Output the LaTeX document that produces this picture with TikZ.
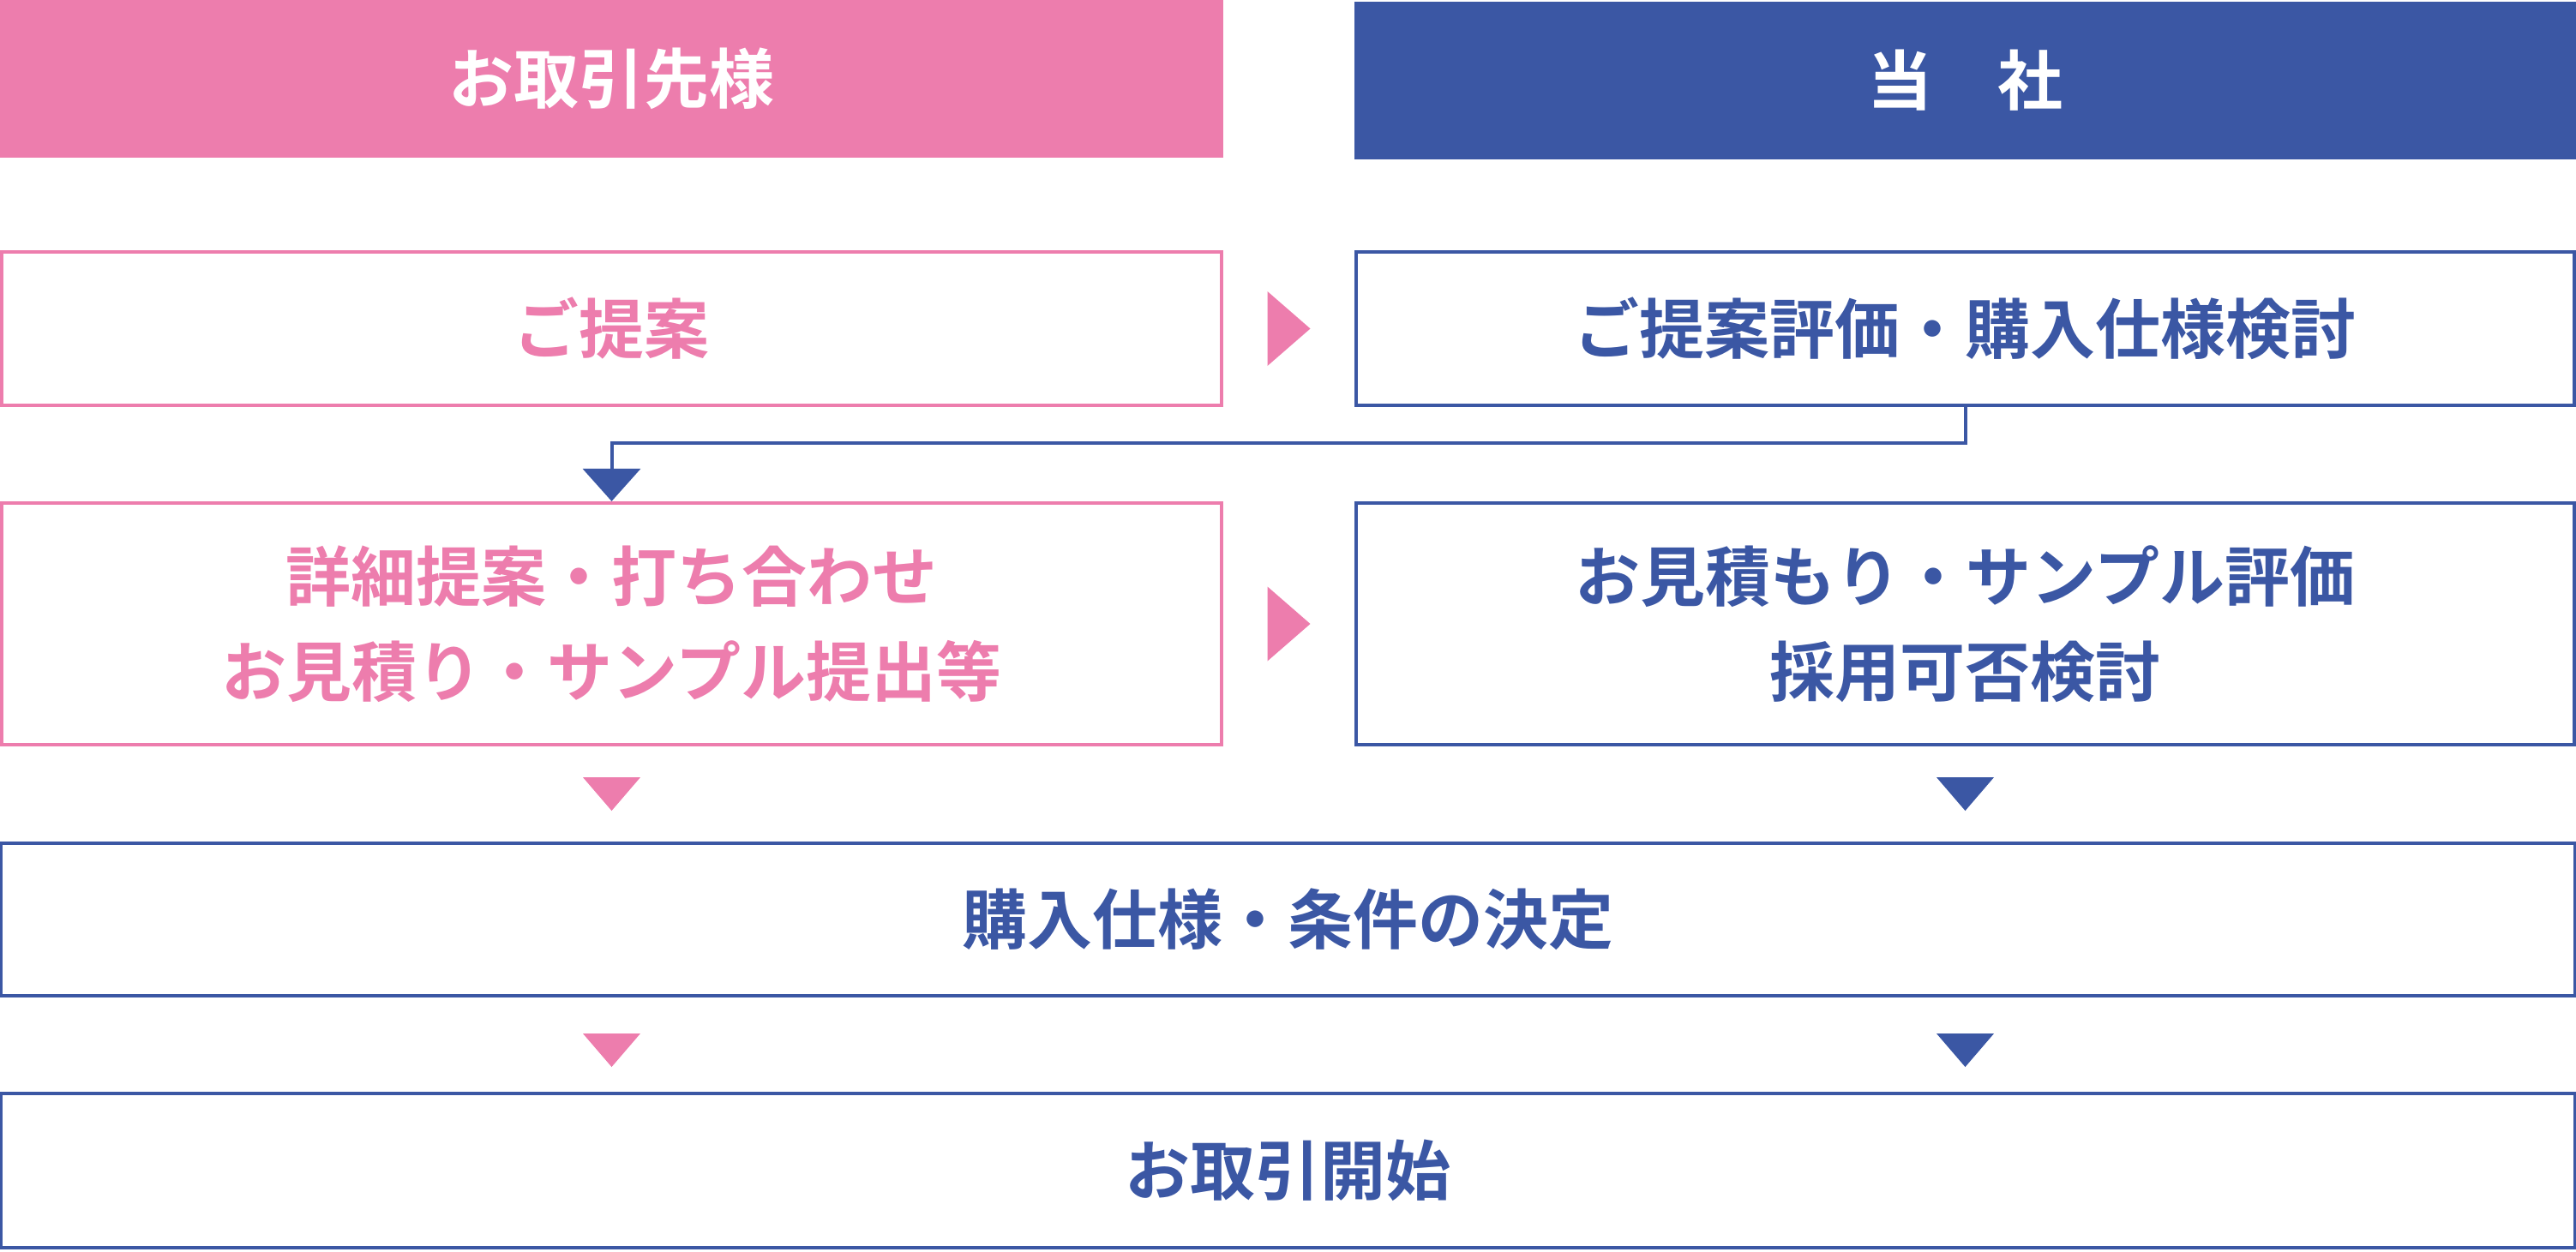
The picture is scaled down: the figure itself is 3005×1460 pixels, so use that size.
\documentclass[tikz,border=0pt]{standalone}
\usepackage{fontspec}
\newfontfamily\jp{Noto Sans CJK JP}[BoldFont={Noto Sans CJK JP Bold}]
\usetikzlibrary{calc,arrows.meta}
\definecolor{clientpink}{RGB}{237,125,173}
\definecolor{ourblue}{RGB}{59,87,164}
\tikzset{
  every node/.style={font=\jp\bfseries\fontsize{21.6pt}{31.5pt}\selectfont, inner sep=0pt, align=center},
  headbox/.style={rectangle, text=white, minimum height=1.84cm},
  stepbox/.style={rectangle, draw, fill=white, line width=0.04cm},
}

\begin{document}
\begin{tikzpicture}[x=0.01cm, y=-0.01cm]
    \useasboundingbox (0,0) rectangle (3005,1460);
    % headers
    \node[headbox, fill=clientpink, minimum width=14.27cm] (hA) at (713.5,92) {お取引先様};
    \node[headbox, fill=ourblue, minimum width=14.25cm] (hB) at (2292.5,94) {当　社};
    % steps
    \node[stepbox, draw=clientpink, text=clientpink, minimum width=14.23cm, minimum height=1.79cm] (a1) at (713.5,383.5) {ご提案};
    \node[stepbox, draw=ourblue, text=ourblue, minimum width=14.21cm, minimum height=1.79cm] (b1) at (2292.5,383.5) {ご提案評価・購入仕様検討};
    \node[stepbox, draw=clientpink, text=clientpink, minimum width=14.23cm, minimum height=2.82cm] (a2) at (713.5,728) {詳細提案・打ち合わせ\\お見積り・サンプル提出等};
    \node[stepbox, draw=ourblue, text=ourblue, minimum width=14.21cm, minimum height=2.82cm] (b2) at (2292.5,728) {お見積もり・サンプル評価\\採用可否検討};
    \node[stepbox, draw=ourblue, text=ourblue, minimum width=30.01cm, minimum height=1.78cm] (c3) at (1502.5,1073) {購入仕様・条件の決定};
    \node[stepbox, draw=ourblue, text=ourblue, minimum width=30.01cm, minimum height=1.80cm] (c4) at (1502.5,1366) {お取引開始};
    % arrows
    \fill[clientpink] ($(a1.east)!0.5!(b1.west)$) ++(-25,-43.5) -- ++(0,87) -- ++(50,-43.5) -- cycle;
    \fill[clientpink] ($(a2.east)!0.5!(b2.west)$) ++(-25,-43.5) -- ++(0,87) -- ++(50,-43.5) -- cycle;
    \draw[ourblue, line width=0.04cm, -{Triangle[length=0.38cm, width=0.67cm]}]
      (b1.south) -- ++(0,42) -| (a2.north);
    \fill[clientpink] ($(a2.south)+(-33.5,36)$) -- ++(67,0) -- ++(-33.5,39) -- cycle;
    \fill[ourblue] ($(b2.south)+(-33.5,36)$) -- ++(67,0) -- ++(-33.5,39) -- cycle;
    \fill[clientpink] ($(a2.south |- c3.south)+(-33.5,42)$) -- ++(67,0) -- ++(-33.5,39) -- cycle;
    \fill[ourblue] ($(b2.south |- c3.south)+(-33.5,42)$) -- ++(67,0) -- ++(-33.5,39) -- cycle;
\end{tikzpicture}
\end{document}
